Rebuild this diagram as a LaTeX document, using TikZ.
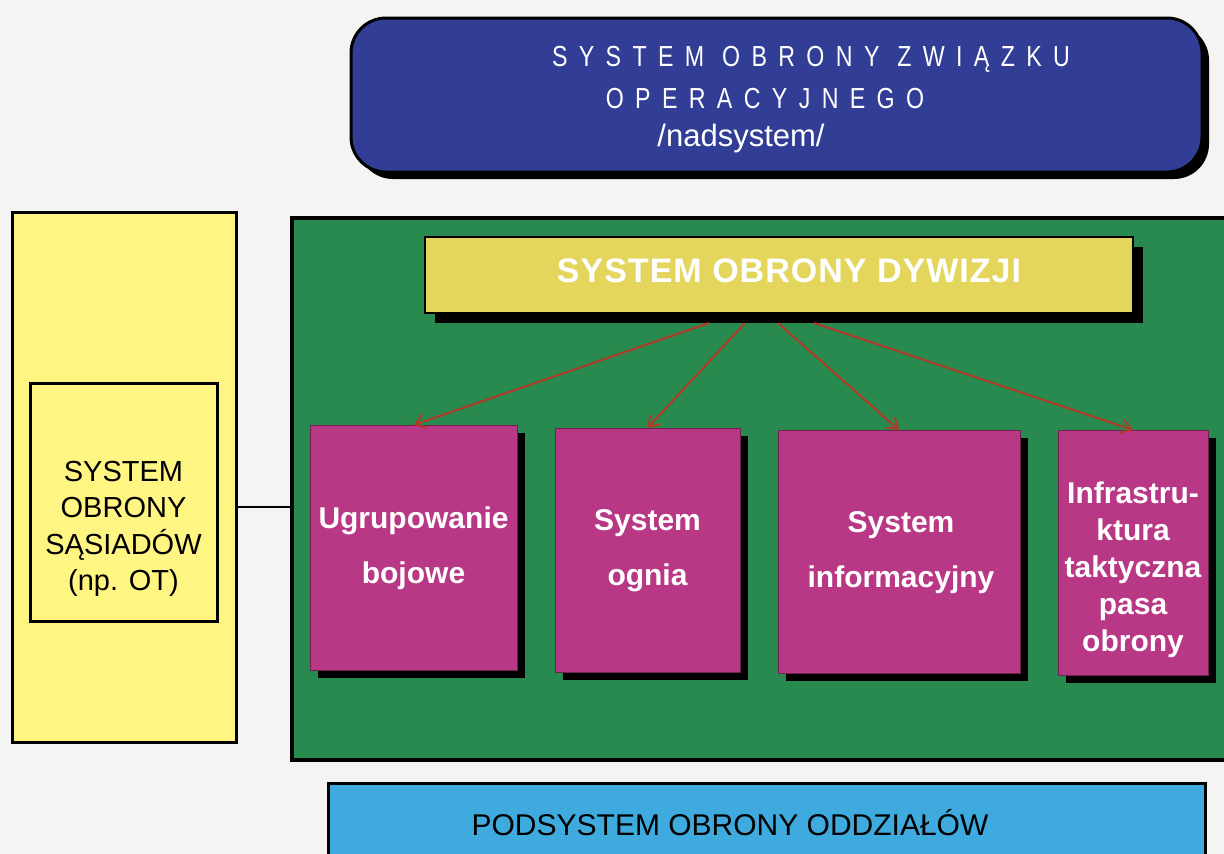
\documentclass[tikz,border=0pt]{standalone}
\usepackage{graphicx}
\usepackage{fontspec}
\setmainfont{Liberation Sans}
\newfontfamily\widesans[LetterSpace=49]{Liberation Sans}
\newfontfamily\titlesans[LetterSpace=3]{Liberation Sans}
\usetikzlibrary{arrows.meta,shadows}

\definecolor{paper}{RGB}{244,244,242}
\definecolor{navyfill}{RGB}{50,62,150}
\definecolor{fieldgreen}{RGB}{40,138,78}
\definecolor{titleyellow}{RGB}{228,214,92}
\definecolor{paleyellow}{RGB}{255,245,130}
\definecolor{plum}{RGB}{184,56,134}
\definecolor{skyblue}{RGB}{62,170,222}
\definecolor{rust}{RGB}{178,58,40}

\newcommand{\narrowtext}[2]{\scalebox{#1}[1]{#2}}

\tikzset{
  box/.style={rectangle, inner sep=0pt, outer sep=0pt},
  hardshadow/.style={drop shadow={shadow xshift=#1, shadow yshift=-#1, opacity=1, fill=black}},
  unitbox/.style={box, fill=plum, draw=plum!60!black, line width=1pt, hardshadow=8pt},
  unittext/.style={text=white, align=center, font=\bfseries\fontsize{30}{55}\selectfont},
  headline/.style={text=white, inner sep=0pt, font=\widesans\fontsize{29}{29}\selectfont},
  branch/.style={draw=rust, line width=2pt, -{Straight Barb[length=10pt,width=14pt]}},
}

\begin{document}
\begin{tikzpicture}[x=1pt, y=-1pt]
\useasboundingbox (0,0) rectangle (1224,854);
\clip (0,0) rectangle (1224,854);
\fill[paper] (0,0) rectangle (1224,854);

% higher-level system
\node[box, minimum width=851pt, minimum height=154pt, fill=navyfill, draw=black,
      line width=3pt, rounded corners=35pt, hardshadow=7pt] (top) at (776.5,95) {};
\node[headline] (topA) at (811,59) {\narrowtext{0.8}{SYSTEM OBRONY ZWIĄZKU}};
\node[headline] (topB) at (765,99) {\narrowtext{0.8}{OPERACYJNEGO}};
\node[text=white, font=\fontsize{31}{31}\selectfont] (topC) at (741,138) {/nadsystem/};

% division defence system field
\node[box, minimum width=948pt, minimum height=542pt, fill=fieldgreen, draw=black,
      line width=4pt] (field) at (766,489) {};

\node[box, minimum width=708pt, minimum height=76pt, fill=titleyellow, draw=black,
      line width=2pt, hardshadow=10pt] (title) at (779,275) {};
\node[text=white, font=\titlesans\bfseries\fontsize{34}{34}\selectfont] (titletext) at (789,271) {SYSTEM OBRONY DYWIZJI};

% component subsystems
\node[unitbox, minimum width=207pt, minimum height=245pt] (b1) at (413.5,547.5) {};
\node[unitbox, minimum width=185pt, minimum height=244pt] (b2) at (647.5,550) {};
\node[unitbox, minimum width=242pt, minimum height=243pt] (b3) at (899,551.5) {};
\node[unitbox, minimum width=150pt, minimum height=245pt] (b4) at (1133,552.5) {};

\node[unittext] (t1) at ([yshift=-1pt]b1.center) {Ugrupowanie\\bojowe};
\node[unittext] (t2) at ([yshift=-1pt]b2.center) {System\\ognia};
\node[unittext] (t3) at ([xshift=2pt,yshift=-1pt]b3.center) {System\\informacyjny};
\node[unittext, font=\bfseries\fontsize{30}{37}\selectfont] (t4) at ([yshift=-17pt]b4.center)
     {Infrastru-\\ktura\\taktyczna\\pasa\\obrony};

\draw[branch] ([xshift=-70pt,yshift=-10pt]title.south) -- (b1.north);
\draw[branch] ([xshift=-34pt,yshift=-10pt]title.south) -- (b2.north);
\draw[branch] ([xshift=-1pt,yshift=-10pt]title.south) -- (b3.north);
\draw[branch] ([xshift=35pt,yshift=-10pt]title.south) -- (b4.north);

% neighbouring defence systems
\node[box, minimum width=224pt, minimum height=530pt, fill=paleyellow, draw=black,
      line width=3pt] (outer) at (124,477) {};
\node[box, minimum width=187pt, minimum height=238pt, fill=paleyellow, draw=black,
      line width=3pt] (inner) at (123.5,502) {};
\node[align=center, font=\fontsize{29}{36.5}\selectfont] (innertext) at (123.5,529)
     {SYSTEM\\OBRONY\\SĄSIADÓW\\(np. OT)};
\draw[line width=2.5pt] ([yshift=-5pt]outer.east |- inner.center) -- ([yshift=-5pt]field.west |- inner.center);

% subordinate units
\node[box, minimum width=877pt, minimum height=117pt, fill=skyblue, draw=black,
      line width=3pt] (units) at (766.5,841.5) {};
\node[font=\fontsize{30}{30}\selectfont] (unitstext) at (730,823) {PODSYSTEM OBRONY ODDZIAŁÓW};
\end{tikzpicture}
\end{document}
